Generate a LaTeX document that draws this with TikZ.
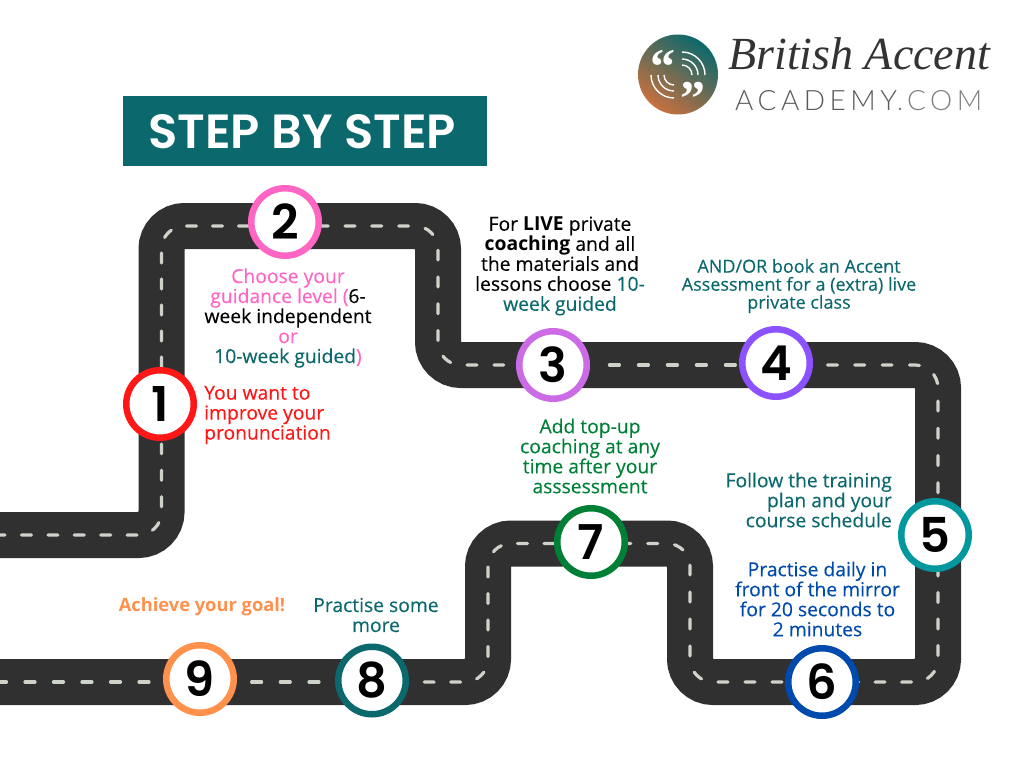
\documentclass[tikz,border=0pt]{standalone}
\usepackage{fontspec}
\setmainfont{Open Sans}[UprightFeatures={FakeBold=0.25}]
\newfontfamily\stepfont{Poppins SemiBold}
\newfontfamily\logosans{Lato Light}[LetterSpace=16]
\newfontfamily\quotefont{Liberation Serif}
\definecolor{tealbase}{HTML}{0B686C}
\definecolor{roadgrey}{HTML}{303030}
\definecolor{dashgrey}{HTML}{CDD3C9}
\definecolor{stepred}{HTML}{FF1616}
\definecolor{steppink}{HTML}{FF66C4}
\definecolor{steplilac}{HTML}{CB6CE6}
\definecolor{stepviolet}{HTML}{8C52FF}
\definecolor{stepcyan}{HTML}{03989E}
\definecolor{stepblue}{HTML}{004AAD}
\definecolor{stepgreen}{HTML}{008037}
\definecolor{steporange}{HTML}{FF914D}
\definecolor{logoorange}{HTML}{C8703F}
\tikzset{
  road/.style={line width=46pt,color=roadgrey,rounded corners=23pt},
  roaddash/.style={line width=3.2pt,color=dashgrey,rounded corners=23pt,line cap=round,dash pattern=on 10pt off #1pt},
  stopnode/.style={circle,draw,line width=6.5pt,fill=white,minimum size=67.5pt,inner sep=0pt,font=\fontsize{48}{48}\stepfont},
  steptext/.style={inner sep=0pt,align=center,font=\fontsize{19.3}{20}\selectfont},
  logoarc/.style={white,line width=1.4pt}
}
\begin{document}
\begin{tikzpicture}[x=1pt,y=-1pt]
  \useasboundingbox (0,0) rectangle (1024,768);

  \coordinate (R0) at (0,535);
  \coordinate (R1) at (161.5,535);
  \coordinate (R2) at (161.5,226);
  \coordinate (R3) at (438,226);
  \coordinate (R4) at (438,365);
  \coordinate (R5) at (938,365);
  \coordinate (R6) at (938,682);
  \coordinate (R7) at (690,682);
  \coordinate (R8) at (690,543.5);
  \coordinate (R9) at (488,543.5);
  \coordinate (R10) at (488,682);
  \coordinate (R11) at (0,682);

  \draw[road] (R0) -- (R1) -- (R2) -- (R3) -- (R4) -- (R5) -- (R6) -- (R7) -- (R8) -- (R9) -- (R10) -- (R11);

  % centre line, one stretch per stop
  \draw[roaddash=16.4] (-4.9,535) -- (R1) -- (161.5,404);
  \draw[roaddash=16] (161.5,367) -- (R2) -- (285,226);
  \draw[roaddash=16.8] (318.2,226) -- (R3) -- (R4) -- (553,365);
  \draw[roaddash=19] (609.4,365) -- (776,365);
  \draw[roaddash=17.3] (827.5,365) -- (R5) -- (938,535);
  \draw[roaddash=16.5] (938,566) -- (R6) -- (822,682);
  \draw[roaddash=17] (809,682) -- (R7) -- (R8) -- (591,543.5);
  \draw[roaddash=16.5] (554,543.5) -- (R9) -- (R10) -- (372,682);
  \draw[roaddash=18.7] (319,682) -- (200,682);
  \draw[roaddash=18.5] (149,682) -- (R11);

  \node[stopnode,draw=stepred] (S1) at (160,404) {1};
  \node[stopnode,draw=steppink] (S2) at (285,222) {2};
  \node[stopnode,draw=steplilac] (S3) at (553,365) {3};
  \node[stopnode,draw=stepviolet] (S4) at (776,363) {4};
  \node[stopnode,draw=stepcyan] (S5) at (935,535) {5};
  \node[stopnode,draw=stepblue] (S6) at (822,682) {6};
  \node[stopnode,draw=stepgreen] (S7) at (591,542) {7};
  \node[stopnode,draw=tealbase] (S8) at (372,680.5) {8};
  \node[stopnode,draw=steporange] (S9) at (200,679) {9};

  \node[steptext,align=left,anchor=west,text=stepred] (T1) at (204,415) {You want to\\improve your\\pronunciation};
  \node[steptext,text=steppink] (T2) at (288,318) {Choose your\\guidance level (\textcolor{black}{6-}\\\textcolor{black}{week independent}\\or\\\textcolor{tealbase}{10-week guided})};
  \node[steptext] (T3) at (560,266) {For \textbf{LIVE} private\\\textbf{coaching} and all\\the materials and\\lessons choose \textcolor{tealbase}{10-}\\\textcolor{tealbase}{week guided}};
  \node[steptext,text=tealbase,font=\fontsize{18}{18}\selectfont] (T4) at (799,286) {AND/OR book an Accent\\Assessment for a (extra) live\\private class};
  \node[steptext,align=right,anchor=east,text=tealbase] (T5) at (892,500) {Follow the training\\plan and your\\course schedule};
  \node[steptext,text=stepblue] (T6) at (817.5,599) {Practise daily in\\front of the mirror\\for 20 seconds to\\2 minutes};
  \node[steptext,text=stepgreen] (T7) at (590,456) {Add top-up\\coaching at any\\time after your\\asssessment};
  \node[steptext,text=tealbase] (T8) at (376,615) {Practise some\\more};
  \node[steptext,text=steporange,font=\fontsize{18.3}{20}\selectfont\bfseries] (T9) at (202,607) {Achieve your goal!};

  % title
  \fill[tealbase] (123,96) rectangle (487,166);
  \node[inner sep=0pt,text=white,font=\fontsize{48}{48}\stepfont] (title) at (302,132) {STEP BY STEP};

  % logo
  \shade[left color=tealbase,right color=logoorange,shading angle=-35] (678,74.5) circle (40pt);
  \node[text=white,inner sep=0pt,font=\fontsize{50}{50}\quotefont\bfseries] (Q1) at (663,67) {“};
  \node[text=white,inner sep=0pt,font=\fontsize{50}{50}\quotefont\bfseries] (Q2) at (693,99) {”};
  \draw[logoarc] (682,52) arc[start angle=90,end angle=0,radius=23pt];
  \draw[logoarc] (682,59) arc[start angle=90,end angle=0,radius=16pt];
  \draw[logoarc] (682,65) arc[start angle=90,end angle=0,radius=10pt];
  \draw[logoarc] (651,75) arc[start angle=180,end angle=270,radius=23pt];
  \draw[logoarc] (658,75) arc[start angle=180,end angle=270,radius=16pt];
  \draw[logoarc] (664,75) arc[start angle=180,end angle=270,radius=10pt];
  \node[anchor=base west,inner sep=0pt,text=black!80,font=\fontsize{46}{46}\quotefont\itshape] (brand) at (728,70) {British Accent};
  \node[anchor=base west,inner sep=0pt,text=black!65,font=\fontsize{28}{28}\logosans] (academy) at (735,110) {ACADEMY\textcolor{black!50}{.COM}};
\end{tikzpicture}
\end{document}
